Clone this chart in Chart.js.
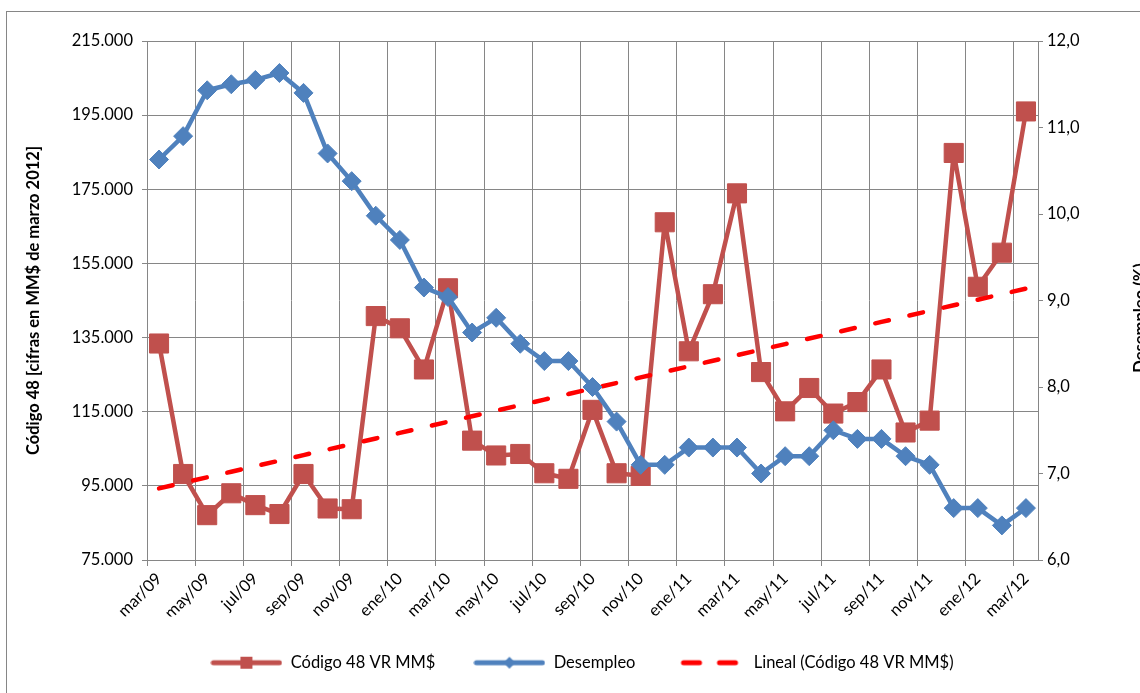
<!DOCTYPE html>
<html>
<head>
<meta charset="utf-8">
<script src="https://cdn.jsdelivr.net/npm/chart.js@4.4.0/dist/chart.umd.min.js"></script>
<style>
  html, body { margin: 0; padding: 0; background: #ffffff; }
  #wrap { position: relative; width: 1140px; height: 693px; overflow: hidden; }
  #frame { position: absolute; left: 6px; top: 11px; width: 1300px; height: 900px; border: 1px solid #868686; box-sizing: border-box; }
  #c { position: absolute; left: 0; top: 0; }
</style>
</head>
<body>
<div id="wrap">
  <div id="frame"></div>
  <canvas id="c" width="1140" height="693"></canvas>
</div>
<script>
// ---- Data ----
const categories = ['mar/09','abr/09','may/09','jun/09','jul/09','ago/09','sep/09','oct/09','nov/09','dic/09',
  'ene/10','feb/10','mar/10','abr/10','may/10','jun/10','jul/10','ago/10','sep/10','oct/10','nov/10','dic/10',
  'ene/11','feb/11','mar/11','abr/11','may/11','jun/11','jul/11','ago/11','sep/11','oct/11','nov/11','dic/11',
  'ene/12','feb/12','mar/12'];

const codigo48 = [133400, 98200, 87100, 93000, 89800, 87400, 98200, 88900, 88700, 140800,
  137500, 126400, 148300, 107200, 103200, 103600, 98400, 96900, 115500, 98400,
  97700, 166100, 131300, 146700, 173900, 125700, 115100, 121400, 114500, 117600,
  126400, 109400, 112600, 184800, 148700, 157900, 196000];

const desempleo = [10.63, 10.90, 11.43, 11.50, 11.55, 11.63, 11.40, 10.70, 10.38, 9.98,
  9.70, 9.15, 9.04, 8.63, 8.80, 8.50, 8.30, 8.30, 8.00, 7.60,
  7.10, 7.10, 7.30, 7.30, 7.30, 7.00, 7.20, 7.20, 7.50, 7.40,
  7.40, 7.20, 7.10, 6.60, 6.60, 6.40, 6.60];

const leftTicks = { min: 75000, max: 215000, step: 20000 };
const rightTicks = { min: 6, max: 12, step: 1 };

const seriesNames = ['Código 48 VR MM$', 'Desempleo', 'Lineal (Código 48 VR MM$)'];
const leftTitle = 'Código 48 [cifras en MM$ de marzo 2012]';
const rightTitle = 'Desempleo (%)';

// Linear trendline (least squares) of the Código 48 series, as Excel's "Lineal"
function linearTrend(arr) {
  const n = arr.length;
  let sx = 0, sy = 0, sxy = 0, sxx = 0;
  arr.forEach((v, i) => { sx += i; sy += v; sxy += i * v; sxx += i * i; });
  const slope = (n * sxy - sx * sy) / (n * sxx - sx * sx);
  const icpt = (sy - slope * sx) / n;
  return arr.map((_, i) => icpt + slope * i);
}
const trend = linearTrend(codigo48);

// ---- Styles ----
const RED = '#C0504D';
const BLUE = '#4F81BD';
const TREND = '#FF0000';
const GRID = '#868686';
const FONT = 'Lato';
const FS = 16.5;

Chart.defaults.font.family = FONT;
Chart.defaults.font.size = FS;
Chart.defaults.color = '#000000';

function legendIcon(kind) {
  const c = document.createElement('canvas');
  c.width = 72; c.height = 18;
  const g = c.getContext('2d');
  g.lineCap = 'round';
  if (kind === 'red' || kind === 'blue') {
    g.strokeStyle = kind === 'red' ? RED : BLUE;
    g.fillStyle = g.strokeStyle;
    g.lineWidth = 5;
    g.beginPath(); g.moveTo(3, 9); g.lineTo(69, 9); g.stroke();
    if (kind === 'red') {
      g.fillRect(30, 3, 12, 12);
    } else {
      g.beginPath(); g.moveTo(36, 3); g.lineTo(42, 9); g.lineTo(36, 15); g.lineTo(30, 9); g.closePath(); g.fill();
    }
  } else {
    g.strokeStyle = TREND;
    g.lineWidth = 5;
    g.beginPath(); g.moveTo(10, 9); g.lineTo(26, 9); g.stroke();
    g.beginPath(); g.moveTo(46, 9); g.lineTo(62, 9); g.stroke();
  }
  return c;
}
const icons = [legendIcon('red'), legendIcon('blue'), legendIcon('trend')];

const rightTitlePlugin = {
  id: 'rightTitle',
  afterDraw(chart) {
    const ctx = chart.ctx;
    ctx.save();
    ctx.translate(1141, 318);
    ctx.rotate(-Math.PI / 2);
    ctx.font = 'bold ' + FS + 'px ' + FONT;
    ctx.fillStyle = '#000';
    ctx.textAlign = 'center';
    ctx.textBaseline = 'middle';
    ctx.fillText(rightTitle, 0, 0);
    ctx.restore();
  }
};

new Chart(document.getElementById('c'), {
  type: 'line',
  data: {
    labels: categories,
    datasets: [
      {
        label: seriesNames[0],
        data: codigo48,
        yAxisID: 'y',
        borderColor: RED,
        backgroundColor: RED,
        borderWidth: 4.5,
        borderJoinStyle: 'round',
        borderCapStyle: 'round',
        pointStyle: 'rect',
        pointRadius: 13.5,
        pointBorderWidth: 1,
        pointBackgroundColor: RED,
        pointBorderColor: RED,
        tension: 0,
        order: 3
      },
      {
        label: seriesNames[1],
        data: desempleo,
        yAxisID: 'y1',
        borderColor: BLUE,
        backgroundColor: BLUE,
        borderWidth: 4.5,
        borderJoinStyle: 'round',
        borderCapStyle: 'round',
        pointStyle: 'rectRot',
        pointRadius: 9.5,
        pointBorderWidth: 1,
        pointBackgroundColor: BLUE,
        pointBorderColor: BLUE,
        tension: 0,
        order: 1
      },
      {
        label: seriesNames[2],
        data: trend,
        yAxisID: 'y',
        borderColor: TREND,
        backgroundColor: TREND,
        borderWidth: 4.5,
        borderDash: [14, 21],
        borderCapStyle: 'round',
        pointRadius: 0,
        tension: 0,
        order: 2
      }
    ]
  },
  options: {
    responsive: false,
    animation: false,
    layout: { padding: { left: 24, right: 0, top: 41, bottom: 12 } },
    plugins: {
      tooltip: { enabled: false },
      legend: {
        position: 'bottom',
        align: 'center',
        labels: {
          usePointStyle: true,
          pointStyleWidth: 72,
          padding: 38,
          color: '#000',
          font: { size: FS, family: FONT },
          sort: (a, b) => a.datasetIndex - b.datasetIndex,
          generateLabels(chart) {
            return chart.data.datasets.map((ds, i) => ({
              text: ds.label,
              datasetIndex: i,
              pointStyle: icons[i],
              fillStyle: 'transparent',
              strokeStyle: 'transparent',
              lineWidth: 0,
              hidden: false,
              fontColor: '#000'
            }));
          }
        }
      }
    },
    scales: {
      x: {
        type: 'category',
        offset: true,
        afterFit(scale) { scale.height = 56.5; },
        grid: {
          offset: true,
          color: (ctx) => (ctx.index % 2 === 0 ? GRID : 'rgba(0,0,0,0)'),
          lineWidth: 1,
          tickLength: 6
        },
        border: { color: GRID, width: 1 },
        ticks: {
          autoSkip: false,
          maxRotation: 45,
          minRotation: 45,
          padding: 3,
          color: '#000',
          callback(value, index) { return index % 2 === 0 ? categories[index] : ''; }
        }
      },
      y: {
        position: 'left',
        min: leftTicks.min,
        max: leftTicks.max,
        afterFit(scale) { scale.width = 123; },
        afterBuildTicks(scale) {
          const t = [];
          for (let v = leftTicks.min; v <= leftTicks.max; v += leftTicks.step) t.push({ value: v });
          scale.ticks = t;
        },
        grid: { color: GRID, lineWidth: 1, tickLength: 5 },
        border: { color: GRID, width: 1 },
        ticks: {
          padding: 9,
          color: '#000',
          callback: (v) => String(v).replace(/\B(?=(\d{3})+(?!\d))/g, '.')
        },
        title: {
          display: true,
          text: leftTitle,
          color: '#000',
          font: { weight: 'bold', size: FS, family: FONT },
          padding: { top: 0, bottom: 0 }
        }
      },
      y1: {
        position: 'right',
        min: rightTicks.min,
        max: rightTicks.max,
        afterFit(scale) { scale.width = 102; },
        afterBuildTicks(scale) {
          const t = [];
          for (let v = rightTicks.min; v <= rightTicks.max + 1e-9; v += rightTicks.step) t.push({ value: v });
          scale.ticks = t;
        },
        grid: { drawOnChartArea: false, color: GRID, lineWidth: 1, tickLength: 5 },
        border: { color: GRID, width: 1 },
        ticks: {
          padding: 4,
          color: '#000',
          callback: (v) => Number(v).toFixed(1).replace('.', ',')
        }
      }
    }
  },
  plugins: [rightTitlePlugin]
});
</script>
</body>
</html>
